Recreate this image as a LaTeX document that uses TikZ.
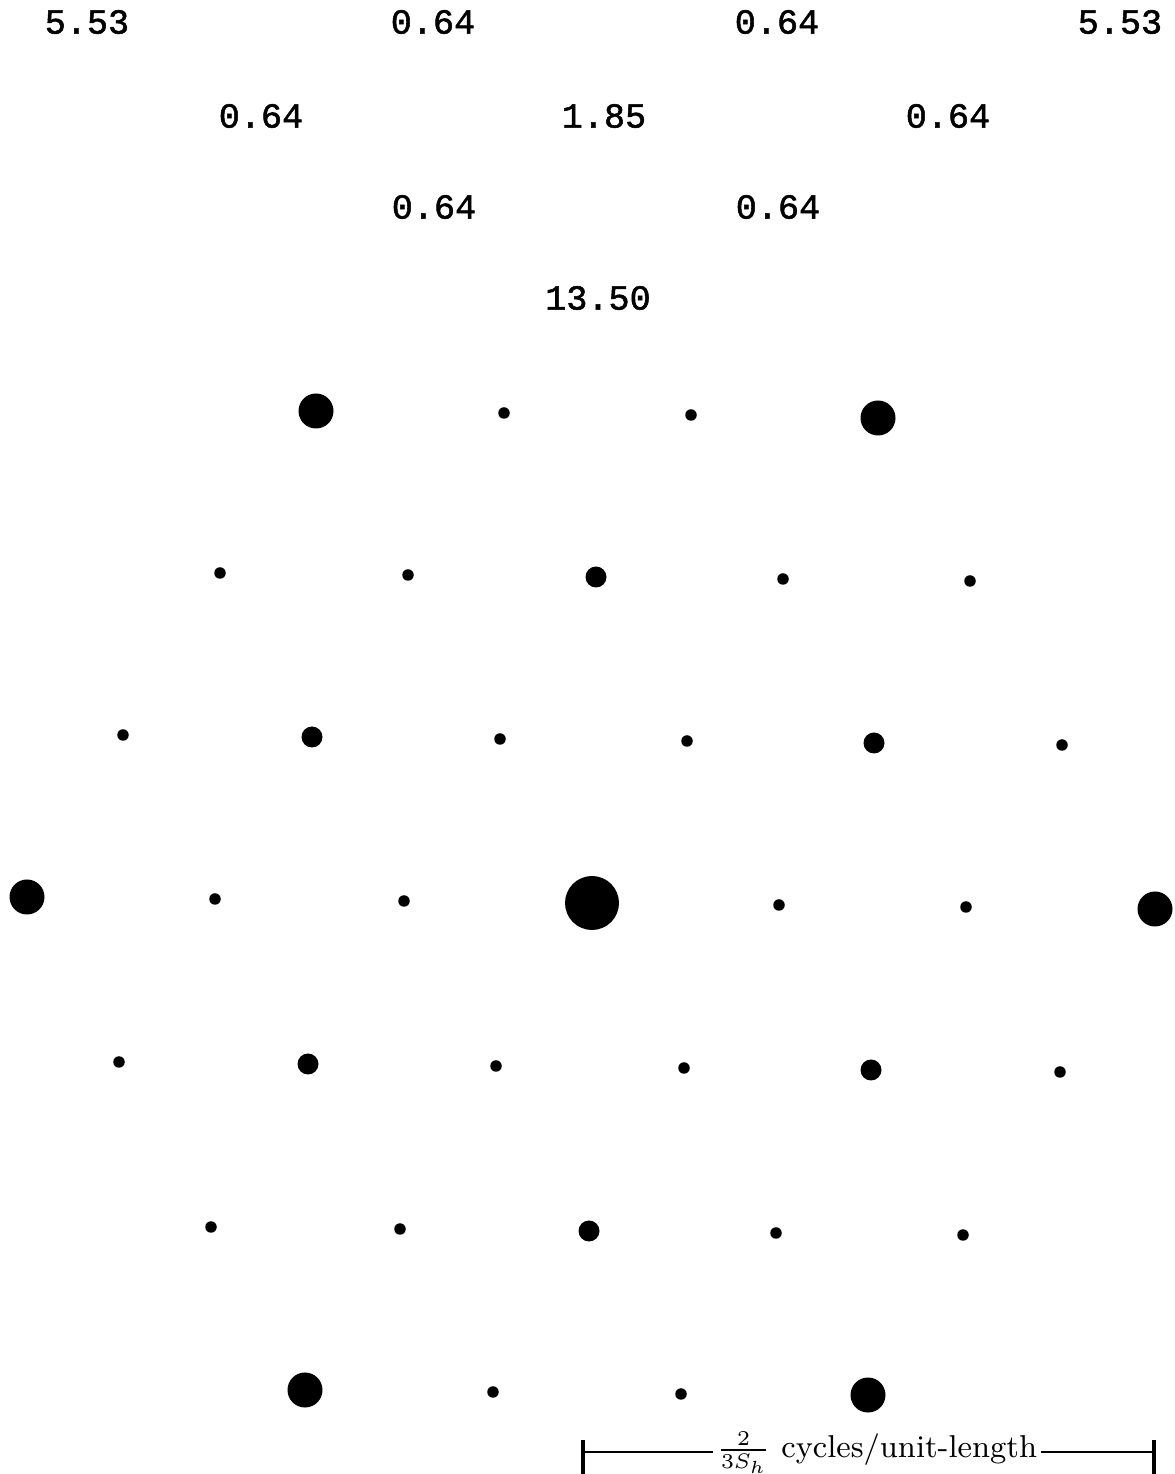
\documentclass[tikz,border=0pt]{standalone}
\usepackage{fontspec}
\usepackage{tikz}
\newfontfamily\valfont[FakeBold=1.5]{Liberation Mono}
\tikzset{
  spot/.style={circle,fill=black,inner sep=0pt},
  spotS/.style={spot,minimum size=0.115cm},
  spotM/.style={spot,minimum size=0.21cm},
  spotL/.style={spot,minimum size=0.35cm},
  spotXL/.style={spot,minimum size=0.54cm},
  val/.style={font=\valfont\fontsize{10}{12}\selectfont,inner sep=0pt}
}
\begin{document}
\begin{tikzpicture}[x=1cm,y=1cm]
\path[use as bounding box] (0,0) rectangle (11.74,14.74);
\fill[white] (0,0) rectangle (11.74,14.74);
% spot values
\node[val] (v1) at (0.87,14.52) {5.53};
\node[val] (v2) at (4.33,14.52) {0.64};
\node[val] (v3) at (7.77,14.52) {0.64};
\node[val] (v4) at (11.20,14.52) {5.53};
\node[val] (v5) at (2.61,13.58) {0.64};
\node[val] (v6) at (6.04,13.58) {1.85};
\node[val] (v7) at (9.48,13.58) {0.64};
\node[val] (v8) at (4.34,12.67) {0.64};
\node[val] (v9) at (7.78,12.67) {0.64};
\node[val] (v10) at (5.98,11.76) {13.50};
% lattice of spots, row by row
\node[spotL] (r1a) at (3.16,10.63) {};
\node[spotS] (r1b) at (5.04,10.61) {};
\node[spotS] (r1c) at (6.91,10.59) {};
\node[spotL] (r1d) at (8.78,10.56) {};
\node[spotS] (r2a) at (2.20,9.01) {};
\node[spotS] (r2b) at (4.08,8.99) {};
\node[spotM] (r2c) at (5.96,8.97) {};
\node[spotS] (r2d) at (7.83,8.95) {};
\node[spotS] (r2e) at (9.70,8.93) {};
\node[spotS] (r3a) at (1.23,7.39) {};
\node[spotM] (r3b) at (3.12,7.37) {};
\node[spotS] (r3c) at (5.00,7.35) {};
\node[spotS] (r3d) at (6.87,7.33) {};
\node[spotM] (r3e) at (8.74,7.31) {};
\node[spotS] (r3f) at (10.62,7.29) {};
\node[spotL] (r4a) at (0.27,5.77) {};
\node[spotS] (r4b) at (2.15,5.75) {};
\node[spotS] (r4c) at (4.04,5.73) {};
\node[spotXL] (r4d) at (5.92,5.71) {};
\node[spotS] (r4e) at (7.79,5.69) {};
\node[spotS] (r4f) at (9.66,5.67) {};
\node[spotL] (r4g) at (11.55,5.65) {};
\node[spotS] (r5a) at (1.19,4.12) {};
\node[spotM] (r5b) at (3.08,4.10) {};
\node[spotS] (r5c) at (4.96,4.08) {};
\node[spotS] (r5d) at (6.84,4.06) {};
\node[spotM] (r5e) at (8.71,4.04) {};
\node[spotS] (r5f) at (10.60,4.02) {};
\node[spotS] (r6a) at (2.11,2.47) {};
\node[spotS] (r6b) at (4.00,2.45) {};
\node[spotM] (r6c) at (5.89,2.43) {};
\node[spotS] (r6d) at (7.76,2.41) {};
\node[spotS] (r6e) at (9.63,2.39) {};
\node[spotL] (r7a) at (3.05,0.84) {};
\node[spotS] (r7b) at (4.93,0.82) {};
\node[spotS] (r7c) at (6.81,0.80) {};
\node[spotL] (r7d) at (8.68,0.79) {};
% scale bar
\coordinate (barL) at (5.83,0.22);
\coordinate (barR) at (11.54,0.22);
\node[anchor=base,inner sep=1pt] (scalelbl) at (8.77,0.16) {\small$\frac{2}{3S_h}$ cycles/unit-length};
\draw[line width=.6pt] (barL) -- (barL -| scalelbl.west);
\draw[line width=.6pt] (scalelbl.east |- barR) -- (barR);
\draw[line width=1.1pt] ([yshift=.12cm]barL) -- ([yshift=-.22cm]barL);
\draw[line width=1.1pt] ([yshift=.12cm]barR) -- ([yshift=-.22cm]barR);
\end{tikzpicture}
\end{document}
